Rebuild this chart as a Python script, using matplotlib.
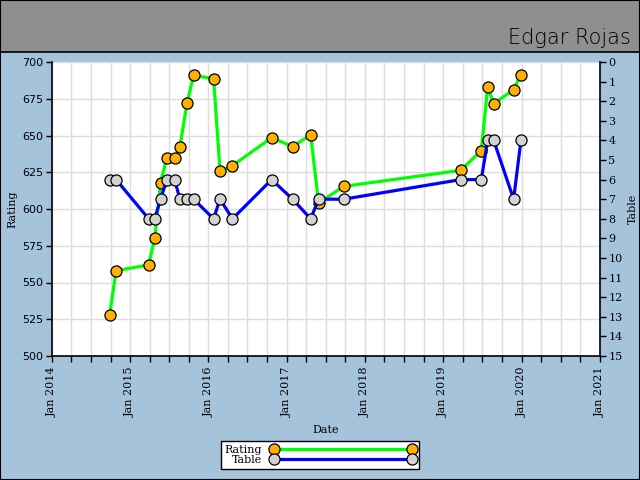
import matplotlib
matplotlib.use('Agg')
import matplotlib.pyplot as plt
import matplotlib.dates as mdates
from matplotlib.patches import Rectangle
import pandas as pd

# data
dates = pd.to_datetime([
    '2014-09-27', '2014-10-27', '2015-03-28', '2015-04-25', '2015-05-23',
    '2015-06-20', '2015-07-27', '2015-08-21', '2015-09-23', '2015-10-24',
    '2016-01-25', '2016-02-24', '2016-04-22', '2016-10-22', '2017-01-28',
    '2017-04-22', '2017-05-29', '2017-09-23', '2019-03-23', '2019-06-27',
    '2019-07-27', '2019-08-24', '2019-11-25', '2019-12-29',
])
rating = [528, 558, 562, 580, 618, 634.5, 634.5, 642.4, 672, 691,
          688.6, 626, 629.5, 648.5, 642.4, 650.5, 604, 615.4, 626.3, 639.7,
          683.2, 671.6, 681.2, 691.4]
table = [6, 6, 8, 8, 7, 6, 6, 7, 7, 7,
         8, 7, 8, 6, 7, 8, 7, 7, 6, 6,
         4, 4, 7, 4]

player = 'Edgar Rojas'
bg_blue = '#a6c3dc'
head_gray = '#8f8f8f'

fig = plt.figure(figsize=(6.4, 4.8), dpi=100)
fig.patch.set_facecolor(bg_blue)

# header band + outer frame
fig.patches.append(Rectangle((0, 1 - 52 / 480), 1, 52 / 480, transform=fig.transFigure,
                             facecolor=head_gray, edgecolor='black', linewidth=1.2, zorder=0))
fig.patches.append(Rectangle((0, 0), 1, 1, transform=fig.transFigure, fill=False,
                             edgecolor='black', linewidth=1.5, zorder=5))
fig.text(0.985, 1 - 44 / 480, player, ha='right', va='baseline', fontsize=15,
         fontfamily='DejaVu Sans', fontweight='light', color='black')

ax = fig.add_axes([52 / 640, 124 / 480, 548 / 640, 294 / 480])
ax.set_facecolor('white')

start, end = pd.Timestamp('2014-01-01'), pd.Timestamp('2021-01-01')
ax.set_xlim(start, end)
ax.set_ylim(500, 700)
ax.set_yticks(range(500, 701, 25))

ax.xaxis.set_major_locator(mdates.YearLocator())
ax.xaxis.set_major_formatter(mdates.DateFormatter('Jan %Y'))
ax.xaxis.set_minor_locator(mdates.MonthLocator(bymonth=[1, 4, 7, 10]))
ax.grid(True, which='both', axis='x', color='#dddddd', linewidth=1)
ax.grid(True, which='major', axis='y', color='#dddddd', linewidth=1)
ax.set_axisbelow(True)

ax.plot(dates, rating, color='#00ff00', linewidth=2.3, marker='o', markersize=8,
        markerfacecolor='#ffb000', markeredgecolor='black', markeredgewidth=0.9,
        label='Rating')

ax2 = ax.twinx()
ax2.set_ylim(15, 0)
ax2.set_yticks(range(0, 16))
ax2.plot(dates, table, color='#0000ff', linewidth=2.3, marker='o', markersize=8,
         markerfacecolor='#d3d3d3', markeredgecolor='black', markeredgewidth=0.9,
         label='Table')

for a in (ax, ax2):
    for s in a.spines.values():
        s.set_visible(False)
    a.tick_params(which='both', direction='out', length=4, width=1, color='black')
ax.spines['left'].set_visible(True)
ax.spines['bottom'].set_visible(True)
ax2.spines['right'].set_visible(True)
for s in ('left', 'bottom'):
    ax.spines[s].set_linewidth(1.2)
ax2.spines['right'].set_linewidth(1.2)

ax.tick_params(axis='x', which='minor', length=4)
ax.tick_params(axis='y', labelsize=8, pad=2)
for lab in ax.get_yticklabels():
    lab.set_fontfamily('DejaVu Sans')
for lab in ax.get_xticklabels():
    lab.set_fontfamily('DejaVu Serif')
    lab.set_rotation(90)
    lab.set_fontsize(8)
ax2.tick_params(axis='y', labelsize=8, pad=2)
for lab in ax2.get_yticklabels():
    lab.set_fontfamily('DejaVu Serif')

ax.set_xlabel('Date', fontsize=8, fontfamily='DejaVu Serif', labelpad=6)
ax.set_ylabel('Rating', fontsize=8, fontfamily='DejaVu Serif', labelpad=4)
ax2.set_ylabel('Table', fontsize=8, fontfamily='DejaVu Serif', labelpad=4, rotation=90)

h1, l1 = ax.get_legend_handles_labels()
h2, l2 = ax2.get_legend_handles_labels()
leg = fig.legend(h1 + h2, l1 + l2, loc='center', bbox_to_anchor=(320 / 640, 1 - 455 / 480),
                 numpoints=2, handlelength=13, markerfirst=False, frameon=True,
                 fancybox=False, edgecolor='black', framealpha=1,
                 prop={'family': 'DejaVu Serif', 'size': 8}, borderpad=0.3,
                 labelspacing=0.05, handletextpad=0.8)
leg.get_frame().set_linewidth(1)

fig.savefig('out.png', dpi=100, facecolor=fig.get_facecolor())
